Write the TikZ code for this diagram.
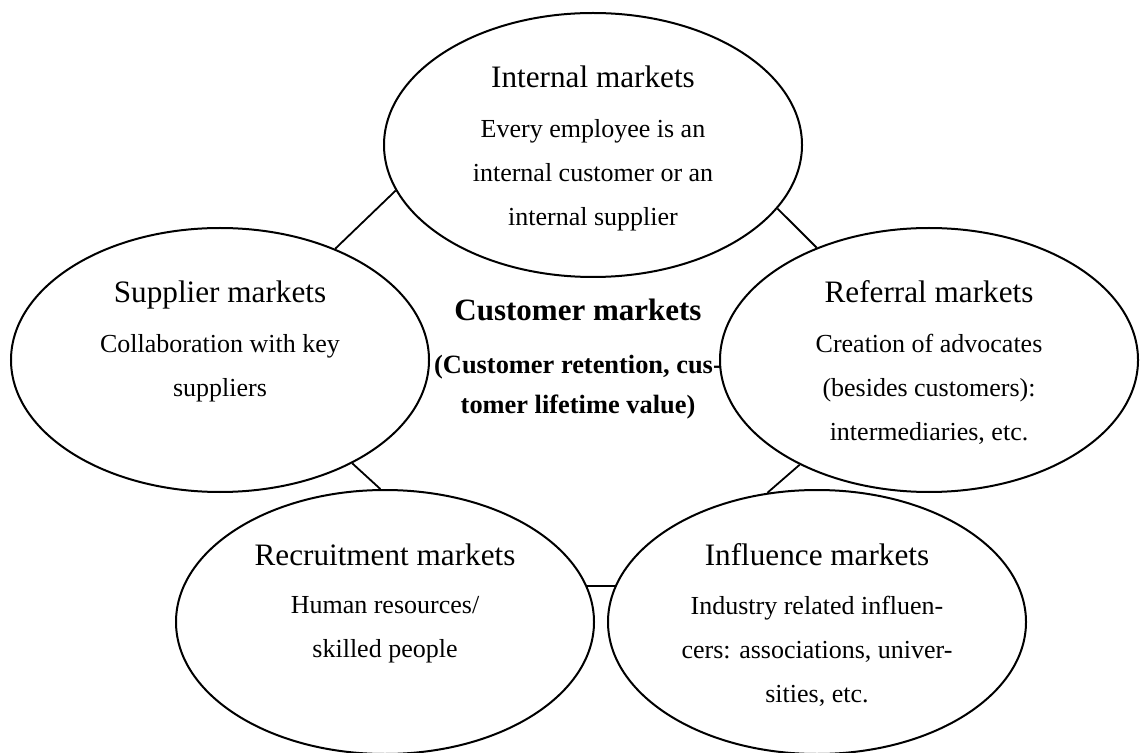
\documentclass[tikz,border=0pt]{standalone}
\usepackage{fontspec}
\setmainfont{Liberation Serif}
\usepackage{tikz}
\usetikzlibrary{shapes.geometric}

\begin{document}
\begin{tikzpicture}[x=0.5pt, y=-0.5pt,
		market/.style={draw, line width=1pt, ellipse, minimum width=209pt, minimum height=132pt, inner sep=0pt},
		head/.style={anchor=base, inner sep=0pt, font=\fontsize{15.6}{18}\selectfont},
		body/.style={anchor=north, align=center, inner sep=0pt, font=\fontsize{13}{22}\selectfont},
		link/.style={line width=0.9pt}]
		\useasboundingbox (0,0) rectangle (1140,753);
		% the five markets round the centre
		\node[market] (internal) at (593,145) {};
		\node[market] (supplier) at (220,360) {};
		\node[market] (referral) at (929,360) {};
		\node[market] (recruit) at (385,622) {};
		\node[market] (influence) at (817,622) {};
		\node[head] (internalhead) at (593,88) {Internal markets};
		\node[body] (internalbody) at (593,119) {Every employee is an\\internal customer or an\\internal supplier};
		\node[head] (supplierhead) at (220,303) {Supplier markets};
		\node[body] (supplierbody) at (220,334) {Collaboration with key\\suppliers};
		\node[head] (referralhead) at (929,303) {Referral markets};
		\node[body] (referralbody) at (929,334) {Creation of advocates\\(besides customers):\\intermediaries, etc.};
		\node[head] (recruithead) at (385,565) {Recruitment markets};
		\node[body] (recruitbody) at (385,596) {Human resources/\\skilled people};
		\node[head] (influencehead) at (817,565) {Influence markets};
		\node[body] (influencebody) at (817,596) {Industry related influen-\\cers: associations, univer-\\sities, etc.};
		% the customer markets in the middle
		\node[head, font=\bfseries\fontsize{15.5}{18}\selectfont] (customerhead) at (578,321) {Customer markets};
		\node[body, font=\bfseries\fontsize{13.2}{20}\selectfont] (customerbody) at (578,355) {(Customer retention, cus-\\tomer lifetime value)};
		% links
		\draw[link] (internal.193) -- (supplier.44);
		\draw[link] (internal.341) -- (referral.135);
		\draw[link] (supplier.322) -- (recruit.92);
		\draw[link] (referral.219) -- (influence.111);
		\draw[link] (recruit.10) -- (influence.170);
	\end{tikzpicture}
\end{document}
